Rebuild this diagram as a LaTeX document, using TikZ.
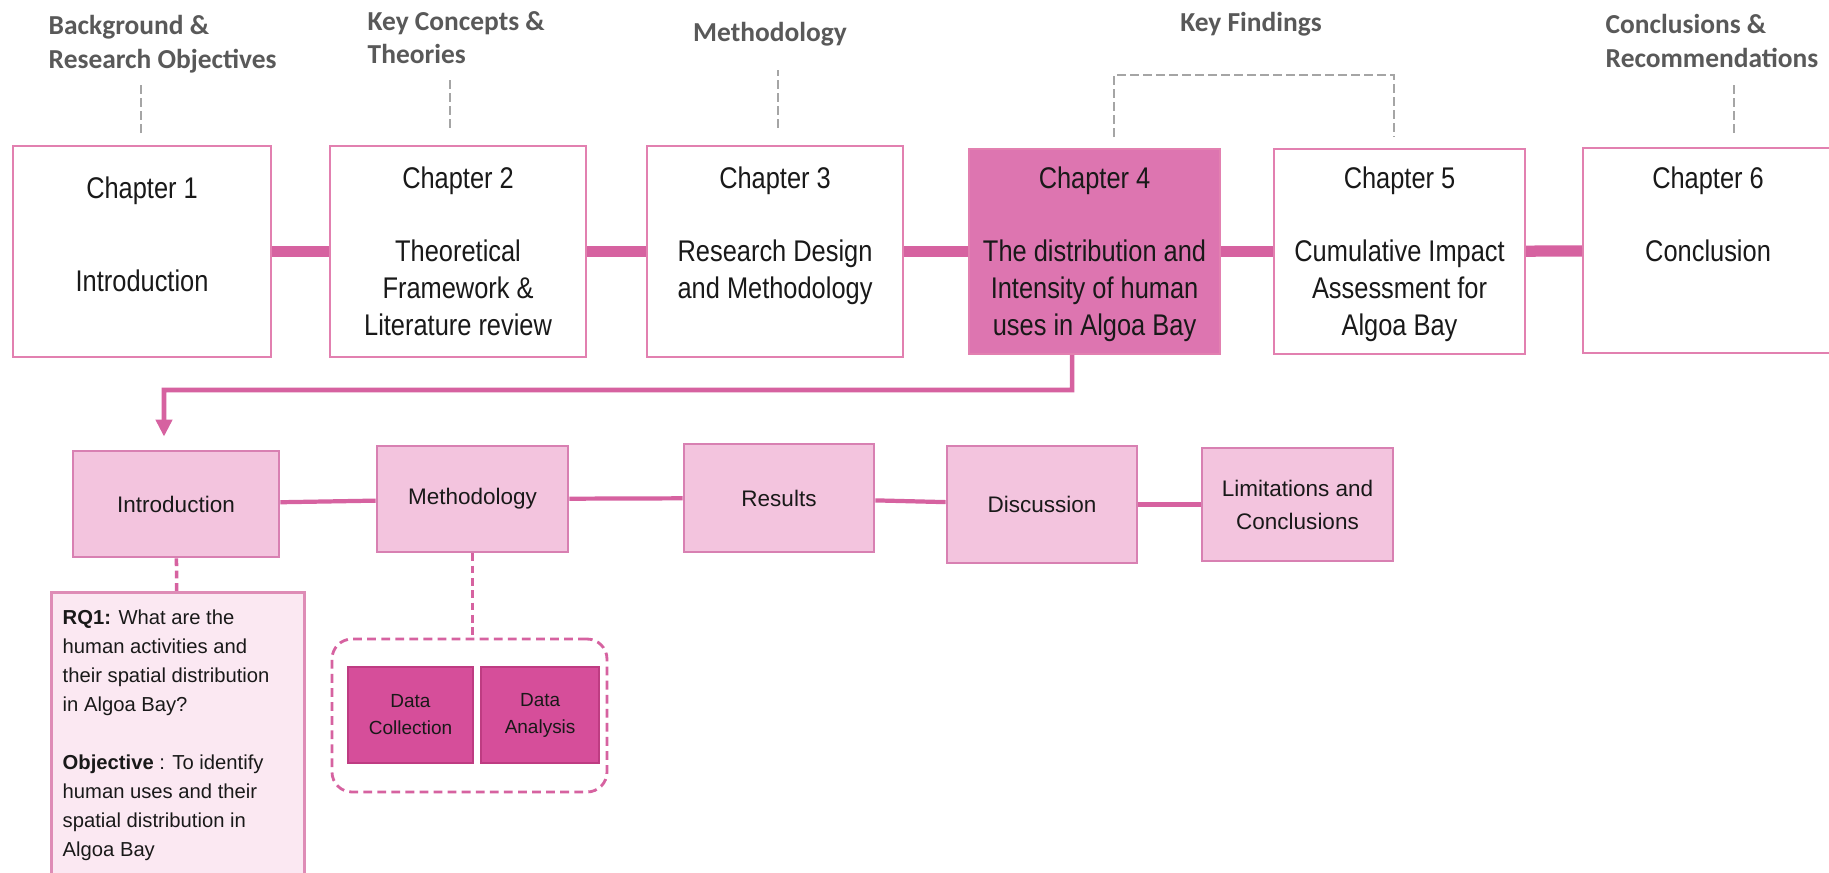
\documentclass[tikz,border=0pt]{standalone}
\usepackage{fontspec}
\setmainfont{Liberation Sans}
\newfontfamily\chapterFont{Liberation Sans}[FakeStretch=0.85]
\newfontfamily\headingFont{Carlito}
\usetikzlibrary{positioning, arrows.meta}
\definecolor{chapterBorder}{RGB}{226,128,176}
\definecolor{chapterFill}{RGB}{221,117,176}
\definecolor{linkPink}{RGB}{214,98,160}
\definecolor{headingGrey}{RGB}{89,89,89}
\definecolor{dashGrey}{RGB}{165,165,165}
\definecolor{sectionFill}{RGB}{243,196,222}
\definecolor{sectionBorder}{RGB}{216,128,178}
\definecolor{questionFill}{RGB}{251,232,242}
\definecolor{questionBorder}{RGB}{222,140,182}
\definecolor{dataFill}{RGB}{214,78,154}
\definecolor{dataBorder}{RGB}{190,60,130}
\definecolor{textDark}{RGB}{25,25,25}
\tikzstyle{diagram} = [x = 0.01cm, y = -0.01cm]
\tikzstyle{chapterStyle} = [draw=chapterBorder, fill=white, line width=0.6pt, inner sep=0]
\tikzstyle{chapterText} = [align=center, inner sep=0, text=textDark, font=\chapterFont\fontsize{8.5}{10.5}\selectfont]
\tikzstyle{headingText} = [align=left, inner sep=0, text=headingGrey, font=\headingFont\bfseries\fontsize{7.8}{9.4}\selectfont]
\tikzstyle{greyDash} = [draw=dashGrey, line width=0.7pt, dash pattern=on 2.5pt off 1.2pt]
\tikzstyle{chapterLink} = [draw=linkPink, line width=3.2pt]
\tikzstyle{sectionStyle} = [draw=sectionBorder, fill=sectionFill, line width=0.8pt, inner sep=0, align=center, text=textDark, font=\fontsize{6.4}{9.4}\selectfont]
\tikzstyle{sectionLink} = [draw=linkPink, line width=1.2pt]
\tikzstyle{sectionArrow} = [draw=linkPink, line width=1.3pt, -{Triangle[length=0.17cm, width=0.16cm]}]
\tikzstyle{pinkDash} = [draw=linkPink, line width=1pt, dash pattern=on 2.2pt off 1.3pt]
\tikzstyle{groupStyle} = [draw=linkPink, line width=0.8pt, dash pattern=on 2.5pt off 1.5pt, rounded corners=0.2cm, inner sep=0]
\tikzstyle{questionStyle} = [draw=questionBorder, fill=questionFill, line width=0.8pt, inner sep=0]
\tikzstyle{questionText} = [align=left, inner sep=0, text=textDark, font=\fontsize{5.75}{8.25}\selectfont]
\tikzstyle{dataStyle} = [draw=dataBorder, fill=dataFill, line width=0.6pt, inner sep=0, align=center, text=textDark, font=\fontsize{5.4}{7.7}\selectfont]
\newcommand{\chapterBox}[6][]{\node [chapterStyle, #1, anchor = north west, minimum width = #5*0.01cm, minimum height = #6*0.01cm] (#2) at (#3, #4) {};}
\newcommand{\sectionBox}[6]{\node [sectionStyle, minimum width = #4*0.01cm, minimum height = #5*0.01cm] (#1) at (#2, #3) {#6};}
\begin{document}
\begin{tikzpicture}[diagram]
  \path [use as bounding box, fill=white] (0,0) rectangle (1829,872);

  \chapterBox{chapOne}{12}{145}{258}{211}
  \chapterBox{chapTwo}{329}{145}{256}{211}
  \chapterBox{chapThree}{646}{145}{256}{211}
  \chapterBox[fill=chapterFill]{chapFour}{968}{148}{251}{205}
  \chapterBox{chapFive}{1273}{148}{251}{205}
  \chapterBox{chapSix}{1582}{147}{250}{205}

  \node [chapterText, below=0.31cm of chapOne.north] (chapOneText) {Chapter 1\\[0.56cm]Introduction};
  \node [chapterText, below=0.21cm of chapTwo.north] (chapTwoText) {Chapter 2\\[0.36cm]Theoretical\\Framework \&\\Literature review};
  \node [chapterText, below=0.21cm of chapThree.north] (chapThreeText) {Chapter 3\\[0.36cm]Research Design\\and Methodology};
  \node [chapterText, below=0.18cm of chapFour.north] (chapFourText) {Chapter 4\\[0.36cm]The distribution and\\Intensity of human\\uses in Algoa Bay};
  \node [chapterText, below=0.18cm of chapFive.north] (chapFiveText) {Chapter 5\\[0.36cm]Cumulative Impact\\Assessment for\\Algoa Bay};
  \node [chapterText, below=0.19cm of chapSix.north] (chapSixText) {Chapter 6\\[0.36cm]Conclusion};

  \draw [chapterLink] (chapOne) -- (chapTwo);
  \draw [chapterLink] (chapTwo) -- (chapThree);
  \draw [chapterLink] (chapThree) -- (chapFour);
  \draw [chapterLink] (chapFour) -- (chapFive);
  \draw [chapterLink] (chapFive) -- (chapSix);

  \node [headingText, anchor=north west] (backgroundLabel) at (48,15) {Background \&\\Research Objectives};
  \node [headingText, anchor=north west] (conceptLabel) at (367,11) {Key Concepts \&\\Theories};
  \node [headingText, anchor=base] (methodLabel) at (770,41.5) {Methodology};
  \node [headingText, anchor=base] (findingLabel) at (1251,31.5) {Key Findings};
  \node [headingText, anchor=north west] (conclusionLabel) at (1605,14) {Conclusions \&\\Recommendations};

  \draw [greyDash] ([xshift=-0.01cm, yshift=0.12cm]chapOne.north) -- ([xshift=-0.01cm, yshift=0.62cm]chapOne.north);
  \draw [greyDash] ([xshift=-0.08cm, yshift=0.17cm]chapTwo.north) -- ([xshift=-0.08cm, yshift=0.68cm]chapTwo.north);
  \draw [greyDash] ([xshift=0.03cm, yshift=0.17cm]chapThree.north) -- ([xshift=0.03cm, yshift=0.75cm]chapThree.north);
  \draw [greyDash] ([xshift=0.195cm, yshift=0.11cm]chapFour.north) -- ++(0,-62) -| ([xshift=-0.055cm, yshift=0.11cm]chapFive.north);
  \draw [greyDash] ([xshift=0.26cm, yshift=0.14cm]chapSix.north) -- ([xshift=0.26cm, yshift=0.64cm]chapSix.north);

  \sectionBox{introSec}{176}{504}{206}{106}{Introduction}
  \sectionBox{methodSec}{472.5}{499}{191}{106}{Methodology}
  \sectionBox{resultSec}{779}{498}{190}{108}{Results}
  \sectionBox{discussSec}{1042}{504.5}{190}{117}{Discussion}
  \sectionBox{limitSec}{1297.5}{504.5}{191}{113}{Limitations and\\Conclusions}

  \draw [sectionLink] (introSec) -- (methodSec);
  \draw [sectionLink] (methodSec) -- (resultSec);
  \draw [sectionLink] (resultSec) -- (discussSec);
  \draw [sectionLink] (discussSec) -- (limitSec);

  \coordinate (arrowTurn) at (164,390);
  \draw [sectionArrow, shorten >=0.13cm] ([xshift=-0.225cm]chapFour.south) |- (arrowTurn) -- ([xshift=-0.12cm]introSec.north);

  \node [questionStyle, anchor=north west, minimum width=253*0.01cm, minimum height=283*0.01cm] (questionBox) at (50,591) {};
  \node [questionText, anchor=north west] (questionLines) at ([xshift=0.12cm, yshift=-0.18cm]questionBox.north west) {\textbf{RQ1:} What are the\\human activities and\\their spatial distribution\\in Algoa Bay?\\[8.25pt]\textbf{Objective} : To identify\\human uses and their\\spatial distribution in\\Algoa Bay};
  \draw [pinkDash] (introSec) -- (questionBox);

  \node [groupStyle, minimum width=275*0.01cm, minimum height=153*0.01cm] (dataGroup) at (469.5,715.5) {};
  \node [dataStyle, minimum width=125*0.01cm, minimum height=96*0.01cm] (collectData) at (410.5,715) {Data\\Collection};
  \node [dataStyle, minimum width=118*0.01cm, minimum height=96*0.01cm, right=0.06cm of collectData] (analyseData) {Data\\Analysis};
  \draw [pinkDash] (methodSec.south) -- (methodSec.south |- dataGroup.north);
\end{tikzpicture}
\end{document}
